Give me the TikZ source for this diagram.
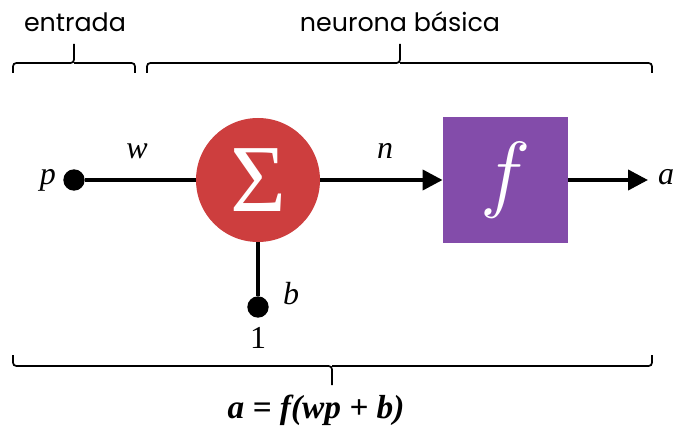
\documentclass[tikz,border=0pt]{standalone}
\usepackage{fix-cm}
\usepackage{fontspec}
\setmainfont{Liberation Serif}
\newfontfamily\gothic{Poppins}
\usepackage{tikz}
\usetikzlibrary{arrows.meta,positioning}
\definecolor{NeuRed}{HTML}{CD3E3E}
\definecolor{NeuPurple}{HTML}{834CAA}

\begin{document}
\begin{tikzpicture}[x=0.75pt,y=-0.75pt,
    wire/.style={line width=3pt},
    tip/.style={-{Triangle[length=15pt,width=15pt]}},
    dot/.style={circle,fill=black,inner sep=0pt,minimum size=16pt},
    sumnode/.style={circle,fill=NeuRed,text=white,inner sep=0pt,minimum size=93pt,font=\fontsize{72}{72}\selectfont},
    actnode/.style={rectangle,fill=NeuPurple,text=white,inner sep=0pt,minimum size=94pt,font=\fontsize{64}{64}\selectfont},
    lbl/.style={inner sep=1pt,font=\fontsize{24}{24}\selectfont\itshape},
    head/.style={inner sep=0pt,font=\gothic\fontsize{19}{19}\selectfont},
    bracket/.style={line width=1.3pt,rounded corners=2.5pt}]
  \useasboundingbox (0,0) rectangle (675,428);
  \node[sumnode] (sum) at (258,180) {Σ};
  \node[actnode] (act) at (505.5,180) {$f$};
  \node[dot] (pdot) at (74,180) {};
  \node[dot] (bdot) at (258,307) {};
  \coordinate (aout) at (648,180);
  \draw[wire] (pdot) -- (sum);
  \draw[wire] (sum) -- (bdot);
  \draw[wire,tip] (sum) -- (act);
  \draw[wire,tip] (act) -- (aout);
  \node[lbl] (plbl) at (48,180) {p};
  \node[lbl] (wlbl) at (137,151) {w};
  \node[lbl] (nlbl) at (385,151) {n};
  \node[lbl] (albl) at (666,177) {a};
  \node[lbl] (blbl) at (291,294) {b};
  \node[lbl,font=\fontsize{24}{24}\selectfont] (one) at (258,338) {1};
  \node[head] (inlbl) at (75,22) {entrada};
  \node[head] (neulbl) at (400,22) {neurona básica};
  \draw[bracket] (13,73) -- (13,63) -- (74,63) -- (74,44);
  \draw[bracket] (74,63) -- (135,63) -- (135,73);
  \draw[bracket] (147,73) -- (147,63) -- (400,63) -- (400,44);
  \draw[bracket] (400,63) -- (652,63) -- (652,73);
  \draw[bracket] (13,355) -- (13,366) -- (332,366) -- (332,385);
  \draw[bracket] (332,366) -- (652,366) -- (652,355);
  \node[lbl,font=\fontsize{25}{25}\selectfont\bfseries\itshape] (eq) at (316,410) {a = f(wp + b)};
\end{tikzpicture}
\end{document}
